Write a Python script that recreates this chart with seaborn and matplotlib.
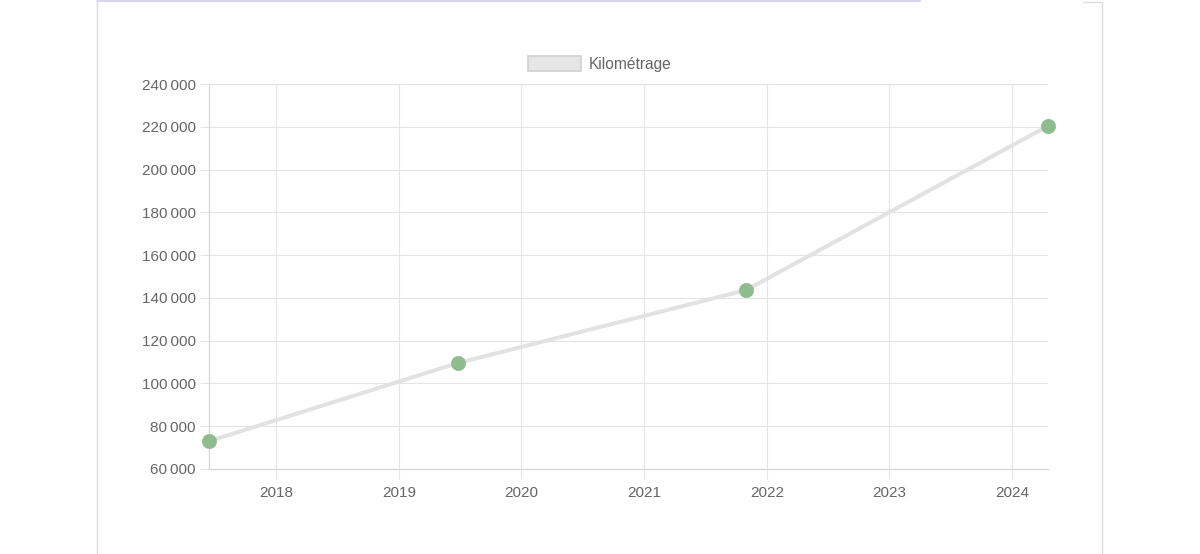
import matplotlib
matplotlib.use("Agg")
import matplotlib.pyplot as plt
import matplotlib.dates as mdates
from matplotlib.lines import Line2D
from matplotlib.patches import Patch
from matplotlib.ticker import FuncFormatter, MultipleLocator
import seaborn as sns
import pandas as pd

# ---- data ----
dates = ["2017-06-15", "2019-06-25", "2021-11-01", "2024-04-17"]
km = [73000, 109500, 143700, 220400]
series_label = "Kilométrage"
y_min, y_max, y_step = 60000, 240000, 20000
x_start, x_end = "2017-06-15", "2024-04-17"

df = pd.DataFrame({"date": pd.to_datetime(dates), "km": km})

sns.set_theme(style="white")
plt.rcParams["font.family"] = ["Liberation Sans", "DejaVu Sans"]

W, H = 1200, 554
fig = plt.figure(figsize=(W / 100, H / 100), dpi=100)
fig.patch.set_facecolor("white")

L, R, T, B = 209, 1048, 84, 469
ax = fig.add_axes([L / W, 1 - B / H, (R - L) / W, (B - T) / H])

grid_c = "#e4e4e4"
text_c = "#666666"

sns.lineplot(data=df, x="date", y="km", ax=ax, color="#e2e2e2",
             linewidth=2.9, zorder=3, legend=False)
sns.scatterplot(data=df, x="date", y="km", ax=ax, color="#8fbc8f",
                s=105, edgecolor="#8fbc8f", linewidth=0.5, zorder=4,
                clip_on=False, legend=False)

ax.set_xlim(pd.Timestamp(x_start), pd.Timestamp(x_end))
ax.set_ylim(y_min, y_max)
ax.yaxis.set_major_locator(MultipleLocator(y_step))
ax.yaxis.set_major_formatter(FuncFormatter(
    lambda v, p: f"{int(v):,}".replace(",", "\u2009")))
ax.xaxis.set_major_locator(mdates.YearLocator())
ax.xaxis.set_major_formatter(mdates.DateFormatter("%Y"))

ax.set_xlabel("")
ax.set_ylabel("")
ax.grid(True, color=grid_c, linewidth=0.8)
ax.set_axisbelow(True)
for s in ["top", "right"]:
    ax.spines[s].set_visible(False)
for s in ["left", "bottom"]:
    ax.spines[s].set_color("#d6d6d6")
    ax.spines[s].set_linewidth(0.9)

ax.tick_params(axis="x", length=7.5, width=0.8, color=grid_c, pad=4.5,
               labelsize=11, labelcolor=text_c)
ax.tick_params(axis="y", length=6.5, width=0.8, color=grid_c, pad=3,
               labelsize=11, labelcolor=text_c)
ax.tick_params(bottom=True, left=True)

# legend
handle = Patch(facecolor="#e6e6e6", edgecolor="#d0d0d0", linewidth=1.2,
               label=series_label)
leg = fig.legend(handles=[handle], loc="center", bbox_to_anchor=(0.5, 1 - 64 / H),
                 frameon=False, fontsize=11.2, handlelength=3.4,
                 handleheight=1.15, handletextpad=0.5)
for t in leg.get_texts():
    t.set_color(text_c)

# card border
card_c = "#dcdcdc"
fig.add_artist(Line2D([97 / W, 97 / W], [0, 1], color=card_c, linewidth=1.0))
fig.add_artist(Line2D([1102 / W, 1102 / W], [0, 1 - 2 / H], color=card_c, linewidth=1.0))
fig.add_artist(Line2D([97 / W, 920 / W], [1 - 1 / H, 1 - 1 / H], color="#d8d6ee", linewidth=1.5))
fig.add_artist(Line2D([1083 / W, 1102 / W], [1 - 2 / H, 1 - 2 / H], color=card_c, linewidth=1.0))

fig.savefig("out.png", dpi=100, facecolor="white")
